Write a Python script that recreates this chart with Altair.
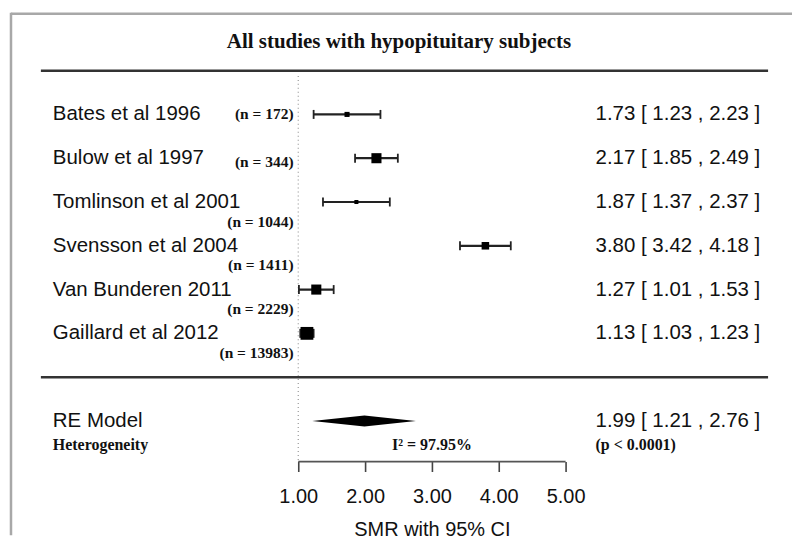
import altair as alt
import pandas as pd

# ---------------- data ----------------
studies = ["Bates et al 1996", "Bulow et al 1997", "Tomlinson et al 2001",
           "Svensson et al 2004", "Van Bunderen 2011", "Gaillard et al 2012"]
n_labels = ["(n = 172)", "(n = 344)", "(n = 1044)", "(n = 1411)",
            "(n = 2229)", "(n = 13983)"]
smr = [1.73, 2.17, 1.87, 3.80, 1.27, 1.13]
ci_low = [1.23, 1.85, 1.37, 3.42, 1.01, 1.03]
ci_high = [2.23, 2.49, 2.37, 4.18, 1.53, 1.23]
weights = [5.5, 21.8, 3.5, 12.2, 21.8, 35.2]   # relative box weights (%)

re_label = "RE Model"
re_est, re_low, re_high = 1.99, 1.21, 2.76
het_label = "Heterogeneity"
i2_text = "I\u00b2 = 97.95%"
p_text = "(p < 0.0001)"
title_text = "All studies with hypopituitary subjects"
x_ticks = [1, 2, 3, 4, 5]
x_title = "SMR with 95% CI"

# ---------------- layout ----------------
W, H = 786, 454
X_DOMAIN = [-3.343, 8.388]
Y_DOMAIN = [-1.415, 8.927]
X_LABEL = -2.672
X_RIGHT = 5.448
X_N = 0.93
X_LINE = [-2.851, 8.03]
X_TITLE = 2.507
SANS = "Liberation Sans"
SERIF = "Liberation Serif"

xscale = alt.Scale(domain=X_DOMAIN, nice=False, zero=False)
yscale = alt.Scale(domain=Y_DOMAIN, nice=False, zero=False, reverse=True)
xaxis = alt.Axis(values=x_ticks, format=".2f", domain=False, grid=False,
                 tickSize=10, tickWidth=1.6, tickColor="#444",
                 labelFont=SANS, labelFontSize=20, labelColor="#111",
                 labelPadding=15, title=x_title, titleFont=SANS,
                 titleFontSize=20, titleFontWeight="normal", titleColor="#111",
                 titleX=425, titleY=68, titleAlign="center",
                 titleBaseline="middle")


def X(field):
    return alt.X(field, type="quantitative", scale=xscale, axis=xaxis)


def Y(field):
    return alt.Y(field, type="quantitative", scale=yscale, axis=None)


rows = list(range(1, len(studies) + 1))
df = pd.DataFrame({
    "row": rows, "study": studies, "n": n_labels, "smr": smr,
    "lo": ci_low, "hi": ci_high, "w": weights,
})
df["ci"] = [f"{m:.2f} [ {l:.2f} , {h:.2f} ]" for m, l, h in zip(smr, ci_low, ci_high)]
df["xn"] = X_N
df["nrow"] = [r + (0.0 if i == 0 else 0.08 if i == 1 else 0.45) for i, r in enumerate(rows)]

RE_ROW = 8
HET_ROW = 8.55

# border
border_top = alt.Chart(pd.DataFrame({"a": [0]})).mark_rule(
    color="#a8a8a8", strokeWidth=2.5).encode(
    x=alt.value(3), x2=alt.value(W), y=alt.value(5))
border_left = alt.Chart(pd.DataFrame({"a": [0]})).mark_rule(
    color="#a8a8a8", strokeWidth=2.5).encode(
    x=alt.value(3), y=alt.value(4), y2=alt.value(528))

# separators
sep_df = pd.DataFrame({"y": [0, 7], "x1": [X_LINE[0]] * 2, "x2": [X_LINE[1]] * 2})
seps = alt.Chart(sep_df).mark_rule(color="#333", strokeWidth=2.5).encode(
    x=X("x1"), x2="x2", y=Y("y"))

# reference dotted line at 1
ref_df = pd.DataFrame({"x": [1], "y1": [0.12], "y2": [Y_DOMAIN[1]]})
ref = alt.Chart(ref_df).mark_rule(color="#999", strokeWidth=1.2,
                                  strokeDash=[1, 3]).encode(
    x=X("x"), y=Y("y1"), y2="y2")

# axis line
ax_df = pd.DataFrame({"x1": [x_ticks[0]], "x2": [x_ticks[-1]], "y": [Y_DOMAIN[1]]})
axline = alt.Chart(ax_df).mark_rule(color="#555", strokeWidth=1.8).encode(
    x=X("x1"), x2="x2", y=Y("y"))

# CI lines and caps
ci_lines = alt.Chart(df).mark_rule(color="#222", strokeWidth=2.2).encode(
    x=X("lo"), x2="hi", y=Y("row"))
caps_df = pd.concat([
    pd.DataFrame({"x": ci_low, "row": rows}),
    pd.DataFrame({"x": ci_high, "row": rows}),
])
caps = alt.Chart(caps_df).mark_tick(orient="vertical", size=9, thickness=1.8,
                                    color="#222", opacity=1).encode(
    x=X("x"), y=Y("row"))

boxes = alt.Chart(df).mark_square(color="black", opacity=1, filled=True).encode(
    x=X("smr"), y=Y("row"),
    size=alt.Size("w", type="quantitative",
                  scale=alt.Scale(domain=[0, max(weights)], range=[0, 165]),
                  legend=None))

# diamond
h = 0.125
dia_df = pd.DataFrame({"x": [re_low, re_est, re_high],
                       "y": [RE_ROW, RE_ROW - h, RE_ROW],
                       "y2": [RE_ROW, RE_ROW + h, RE_ROW]})
diamond = alt.Chart(dia_df).mark_area(color="black", opacity=1,
                                      orient="vertical").encode(
    x=X("x"), y=Y("y"), y2="y2")

# texts
left_df = pd.DataFrame({"row": rows + [RE_ROW], "t": studies + [re_label],
                        "x": [X_LABEL] * (len(rows) + 1)})
left_txt = alt.Chart(left_df).mark_text(align="left", baseline="middle",
                                        font=SANS, fontSize=20.5, color="#111").encode(
    x=X("x"), y=Y("row"), text="t")

right_df = pd.DataFrame({"row": rows + [RE_ROW],
                         "t": list(df["ci"]) + [f"{re_est:.2f} [ {re_low:.2f} , {re_high:.2f} ]"],
                         "x": [X_RIGHT] * (len(rows) + 1)})
right_txt = alt.Chart(right_df).mark_text(align="left", baseline="middle",
                                          font=SANS, fontSize=20.5, color="#111").encode(
    x=X("x"), y=Y("row"), text="t")

n_txt = alt.Chart(df).mark_text(align="right", baseline="middle", font=SERIF,
                                fontSize=15.5, fontWeight="bold", color="#111").encode(
    x=X("xn"), y=Y("nrow"), text="n")

small_df = pd.DataFrame({"t": [het_label, i2_text, p_text],
                         "x": [X_LABEL, 3.0, X_RIGHT],
                         "a": ["left", "center", "left"],
                         "row": [HET_ROW] * 3})
het_txt = alt.Chart(small_df[small_df.a == "left"]).mark_text(
    align="left", baseline="middle", font=SERIF, fontSize=16,
    fontWeight="bold", color="#111").encode(x=X("x"), y=Y("row"), text="t")
i2_txt = alt.Chart(small_df[small_df.a == "center"]).mark_text(
    align="center", baseline="middle", font=SERIF, fontSize=16,
    fontWeight="bold", color="#111").encode(x=X("x"), y=Y("row"), text="t")

title_df = pd.DataFrame({"t": [title_text], "x": [X_TITLE], "row": [-0.66]})
title_txt = alt.Chart(title_df).mark_text(align="center", baseline="middle",
                                          font=SERIF, fontSize=21, fontWeight="bold",
                                          color="#111").encode(
    x=X("x"), y=Y("row"), text="t")

chart = alt.layer(
    border_top, border_left, seps, ref, axline, ci_lines, caps, boxes, diamond,
    left_txt, right_txt, n_txt, het_txt, i2_txt, title_txt
).properties(width=W, height=H, padding=0).configure_view(stroke=None)

chart.save("out.html", embed_options={"renderer": "svg", "actions": False})
